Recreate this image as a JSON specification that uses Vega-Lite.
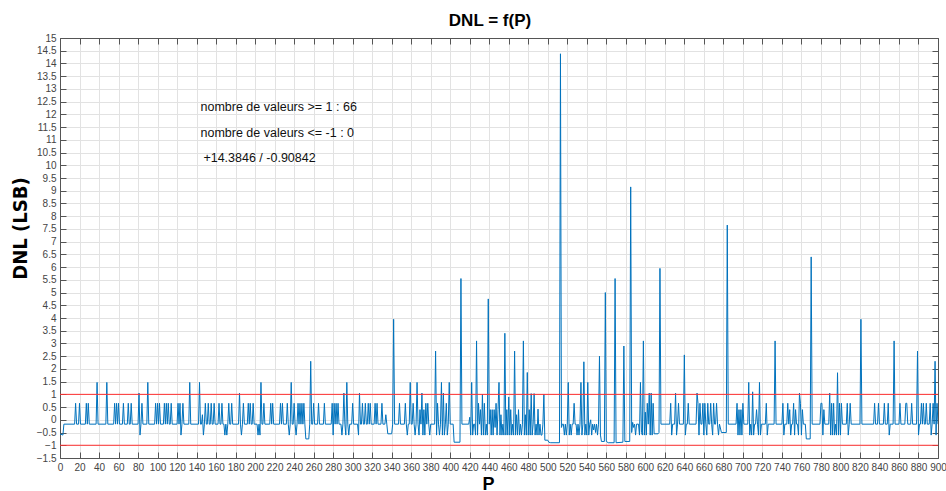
{
"$schema": "https://vega.github.io/schema/vega-lite/v6.json",
"width": 878, "height": 420,
"autosize": {"type": "none"},
"padding": {"left": 60, "top": 38, "right": 8, "bottom": 33},
"background": "white",
"title": {"text": "DNL = f(P)", "font": "Liberation Sans", "fontSize": 17, "fontWeight": "bold", "color": "#000", "anchor": "middle", "dx": -9, "offset": 3},
"config": {
  "view": {"stroke": null},
  "axis": {"domainColor": "#555", "domainWidth": 1, "tickColor": "#555", "tickSize": -6, "labelFont": "Liberation Sans", "labelFontSize": 10, "labelColor": "#444", "gridColor": "#e2e2e2", "gridWidth": 1, "labelPadding": 10}
},
"datasets": {
"dnl": [
{"P":0,"DNL":-0.55},{"P":3,"DNL":-0.6},{"P":4,"DNL":-0.17},
{"P":15,"DNL":-0.17},{"P":16,"DNL":0.65},{"P":17,"DNL":-0.17},
{"P":19,"DNL":-0.17},{"P":20,"DNL":0.65},{"P":21,"DNL":-0.17},
{"P":26,"DNL":-0.17},{"P":27,"DNL":0.65},{"P":28,"DNL":-0.17},{"P":29,"DNL":0.65},{"P":30,"DNL":-0.17},
{"P":37,"DNL":-0.17},{"P":38,"DNL":1.47},{"P":39,"DNL":-0.17},
{"P":47,"DNL":-0.17},{"P":48,"DNL":1.47},{"P":49,"DNL":-0.17},
{"P":55,"DNL":-0.17},{"P":56,"DNL":0.65},{"P":57,"DNL":-0.17},{"P":58,"DNL":0.65},{"P":59,"DNL":-0.17},{"P":60,"DNL":0.65},{"P":61,"DNL":-0.17},
{"P":64,"DNL":-0.17},{"P":65,"DNL":0.65},{"P":66,"DNL":-0.17},
{"P":69,"DNL":-0.17},{"P":70,"DNL":0.65},{"P":71,"DNL":-0.17},{"P":72,"DNL":-0.17},{"P":73,"DNL":0.65},{"P":74,"DNL":-0.17},
{"P":80,"DNL":-0.17},{"P":81,"DNL":1.05},{"P":82,"DNL":-0.6},{"P":83,"DNL":-0.17},{"P":84,"DNL":0.65},{"P":85,"DNL":-0.17},
{"P":89,"DNL":-0.17},{"P":90,"DNL":1.47},{"P":91,"DNL":-0.17},
{"P":97,"DNL":-0.17},{"P":98,"DNL":0.65},{"P":99,"DNL":-0.17},{"P":100,"DNL":0.65},{"P":101,"DNL":-0.17},{"P":102,"DNL":0.65},{"P":103,"DNL":-0.17},
{"P":106,"DNL":-0.17},{"P":107,"DNL":0.65},{"P":108,"DNL":-0.17},{"P":109,"DNL":0.65},{"P":110,"DNL":-0.17},{"P":111,"DNL":0.65},{"P":112,"DNL":-0.17},
{"P":113,"DNL":-0.17},{"P":114,"DNL":0.65},{"P":115,"DNL":-0.17},
{"P":120,"DNL":-0.17},{"P":121,"DNL":0.65},{"P":122,"DNL":-0.17},{"P":123,"DNL":0.65},{"P":124,"DNL":-0.6},{"P":125,"DNL":-0.17},{"P":126,"DNL":0.65},{"P":127,"DNL":-0.17},
{"P":132,"DNL":-0.17},{"P":133,"DNL":1.47},{"P":134,"DNL":-0.17},
{"P":142,"DNL":-0.17},{"P":143,"DNL":1.47},{"P":144,"DNL":-0.17},{"P":145,"DNL":-0.17},{"P":146,"DNL":0.2},{"P":147,"DNL":-0.6},{"P":148,"DNL":-0.17},{"P":149,"DNL":0.65},{"P":150,"DNL":-0.17},
{"P":151,"DNL":-0.17},{"P":152,"DNL":0.65},{"P":153,"DNL":-0.17},{"P":154,"DNL":-0.17},{"P":155,"DNL":0.65},{"P":156,"DNL":-0.17},{"P":157,"DNL":-0.17},{"P":158,"DNL":0.65},{"P":159,"DNL":-0.17},
{"P":162,"DNL":-0.17},{"P":163,"DNL":0.65},{"P":164,"DNL":-0.17},{"P":165,"DNL":-0.17},{"P":166,"DNL":0.65},{"P":167,"DNL":-0.17},{"P":168,"DNL":-0.17},{"P":169,"DNL":-0.6},{"P":170,"DNL":-0.17},{"P":171,"DNL":-0.6},{"P":172,"DNL":-0.17},{"P":173,"DNL":0.65},{"P":174,"DNL":-0.17},{"P":175,"DNL":-0.17},{"P":176,"DNL":0.65},{"P":177,"DNL":-0.17},
{"P":183,"DNL":-0.17},{"P":184,"DNL":1.05},{"P":185,"DNL":-0.17},{"P":186,"DNL":-0.6},{"P":187,"DNL":-0.17},{"P":188,"DNL":0.65},{"P":189,"DNL":-0.17},
{"P":192,"DNL":-0.17},{"P":193,"DNL":0.65},{"P":194,"DNL":-0.17},{"P":195,"DNL":0.65},{"P":196,"DNL":-0.17},{"P":197,"DNL":-0.17},{"P":198,"DNL":0.65},{"P":199,"DNL":-0.17},
{"P":202,"DNL":-0.17},{"P":203,"DNL":-0.6},{"P":204,"DNL":-0.17},{"P":205,"DNL":-0.6},{"P":206,"DNL":1.47},{"P":207,"DNL":-0.17},{"P":208,"DNL":-0.17},{"P":209,"DNL":0.65},{"P":210,"DNL":-0.17},
{"P":215,"DNL":-0.17},{"P":216,"DNL":0.65},{"P":217,"DNL":-0.17},{"P":218,"DNL":0.65},{"P":219,"DNL":-0.17},
{"P":225,"DNL":-0.17},{"P":226,"DNL":0.65},{"P":227,"DNL":-0.17},{"P":228,"DNL":0.65},{"P":229,"DNL":-0.17},
{"P":232,"DNL":-0.17},{"P":233,"DNL":0.65},{"P":234,"DNL":-0.17},{"P":235,"DNL":-0.6},{"P":236,"DNL":-0.17},{"P":237,"DNL":1.47},{"P":238,"DNL":-0.17},{"P":239,"DNL":-0.17},{"P":240,"DNL":0.65},{"P":241,"DNL":-0.17},{"P":242,"DNL":-0.6},{"P":243,"DNL":-0.17},{"P":244,"DNL":0.65},{"P":245,"DNL":-0.17},{"P":246,"DNL":0.65},{"P":247,"DNL":-0.17},{"P":248,"DNL":0.65},{"P":249,"DNL":-0.17},{"P":250,"DNL":0.65},{"P":251,"DNL":-0.17},{"P":252,"DNL":-0.75},{"P":255,"DNL":-0.75},{"P":256,"DNL":-0.17},{"P":257,"DNL":2.3},{"P":258,"DNL":-0.17},
{"P":259,"DNL":-0.17},{"P":260,"DNL":0.65},{"P":261,"DNL":-0.17},
{"P":264,"DNL":-0.17},{"P":265,"DNL":0.65},{"P":266,"DNL":-0.17},
{"P":270,"DNL":-0.17},{"P":271,"DNL":0.65},{"P":272,"DNL":-0.17},
{"P":278,"DNL":-0.17},{"P":279,"DNL":0.65},{"P":280,"DNL":-0.6},{"P":281,"DNL":0.65},{"P":282,"DNL":-0.17},{"P":283,"DNL":0.65},{"P":284,"DNL":-0.17},{"P":285,"DNL":0.65},{"P":286,"DNL":-0.17},
{"P":288,"DNL":-0.17},{"P":289,"DNL":-0.6},{"P":290,"DNL":-0.17},{"P":291,"DNL":1.05},{"P":292,"DNL":-0.17},{"P":293,"DNL":-0.6},{"P":294,"DNL":1.47},{"P":295,"DNL":-0.17},{"P":296,"DNL":-0.6},{"P":297,"DNL":-0.17},
{"P":299,"DNL":-0.17},{"P":300,"DNL":0.65},{"P":301,"DNL":-0.17},
{"P":305,"DNL":-0.17},{"P":306,"DNL":-0.6},{"P":307,"DNL":1.05},{"P":308,"DNL":-0.17},{"P":309,"DNL":-0.17},{"P":310,"DNL":0.65},{"P":311,"DNL":-0.17},{"P":312,"DNL":-0.17},{"P":313,"DNL":0.65},{"P":314,"DNL":-0.17},{"P":315,"DNL":-0.17},{"P":316,"DNL":0.65},{"P":317,"DNL":-0.17},{"P":318,"DNL":0.65},{"P":319,"DNL":-0.17},
{"P":322,"DNL":-0.17},{"P":323,"DNL":0.65},{"P":324,"DNL":-0.17},{"P":325,"DNL":0.65},{"P":326,"DNL":-0.17},
{"P":329,"DNL":-0.17},{"P":330,"DNL":0.65},{"P":331,"DNL":-0.17},
{"P":333,"DNL":-0.17},{"P":334,"DNL":0.2},{"P":335,"DNL":-0.17},{"P":336,"DNL":-0.55},{"P":340,"DNL":-0.55},{"P":341,"DNL":-0.17},{"P":342,"DNL":3.95},{"P":343,"DNL":-0.17},
{"P":347,"DNL":-0.17},{"P":348,"DNL":0.65},{"P":349,"DNL":-0.17},
{"P":353,"DNL":-0.17},{"P":354,"DNL":0.65},{"P":355,"DNL":-0.17},{"P":356,"DNL":-0.6},{"P":357,"DNL":-0.17},{"P":358,"DNL":-0.17},{"P":359,"DNL":1.47},{"P":360,"DNL":-0.17},{"P":361,"DNL":-0.17},{"P":362,"DNL":0.65},{"P":363,"DNL":-0.17},{"P":364,"DNL":-0.6},{"P":365,"DNL":-0.17},{"P":366,"DNL":1.47},{"P":367,"DNL":-0.17},{"P":368,"DNL":-0.6},{"P":369,"DNL":0.4},{"P":370,"DNL":-0.17},{"P":371,"DNL":1.05},{"P":372,"DNL":-0.6},{"P":373,"DNL":0.4},{"P":374,"DNL":-0.6},{"P":375,"DNL":0.65},{"P":376,"DNL":-0.17},{"P":377,"DNL":0.65},{"P":378,"DNL":-0.17},{"P":379,"DNL":-0.6},{"P":380,"DNL":-0.17},
{"P":384,"DNL":-0.17},{"P":385,"DNL":2.7},{"P":386,"DNL":-0.6},{"P":387,"DNL":0.65},{"P":388,"DNL":-0.17},{"P":389,"DNL":-0.6},{"P":390,"DNL":-0.17},{"P":391,"DNL":1.47},{"P":392,"DNL":-0.6},{"P":393,"DNL":1.05},{"P":394,"DNL":-0.6},{"P":395,"DNL":-0.17},{"P":396,"DNL":0.65},{"P":397,"DNL":-0.6},{"P":398,"DNL":-0.17},{"P":399,"DNL":1.47},{"P":400,"DNL":-0.17},
{"P":403,"DNL":-0.17},{"P":404,"DNL":-0.88},{"P":410,"DNL":-0.88},{"P":411,"DNL":5.55},{"P":412,"DNL":-0.17},
{"P":419,"DNL":-0.17},{"P":420,"DNL":0.1},{"P":421,"DNL":-0.6},{"P":422,"DNL":1.47},{"P":423,"DNL":-0.6},{"P":424,"DNL":-0.17},{"P":425,"DNL":-0.17},{"P":426,"DNL":-0.6},{"P":427,"DNL":3.1},{"P":428,"DNL":-0.6},{"P":429,"DNL":0.65},{"P":430,"DNL":-0.17},{"P":431,"DNL":0.4},{"P":432,"DNL":-0.6},{"P":433,"DNL":1.0},{"P":434,"DNL":-0.6},{"P":435,"DNL":0.65},{"P":436,"DNL":-0.6},{"P":437,"DNL":-0.17},{"P":438,"DNL":-0.6},{"P":439,"DNL":4.75},{"P":440,"DNL":-0.17},{"P":441,"DNL":0.4},{"P":442,"DNL":-0.6},{"P":443,"DNL":0.4},{"P":444,"DNL":-0.6},{"P":445,"DNL":0.4},{"P":446,"DNL":-0.3},{"P":447,"DNL":0.65},{"P":448,"DNL":-0.6},{"P":449,"DNL":0.4},{"P":450,"DNL":1.47},{"P":451,"DNL":-0.6},{"P":452,"DNL":0.2},{"P":453,"DNL":-0.6},{"P":454,"DNL":-0.17},{"P":455,"DNL":-0.6},{"P":456,"DNL":3.4},{"P":457,"DNL":-0.6},{"P":458,"DNL":0.4},{"P":459,"DNL":-0.6},{"P":460,"DNL":0.9},{"P":461,"DNL":-0.6},{"P":462,"DNL":0.4},{"P":463,"DNL":-0.6},{"P":464,"DNL":-0.17},{"P":465,"DNL":-0.6},{"P":466,"DNL":2.7},{"P":467,"DNL":-0.6},{"P":468,"DNL":0.2},{"P":469,"DNL":-0.6},{"P":470,"DNL":0.4},{"P":471,"DNL":-0.6},{"P":472,"DNL":-0.17},{"P":473,"DNL":-0.6},{"P":474,"DNL":-0.17},{"P":475,"DNL":3.1},{"P":476,"DNL":-0.6},{"P":477,"DNL":0.2},{"P":478,"DNL":-0.6},{"P":479,"DNL":1.86},{"P":480,"DNL":-0.6},{"P":481,"DNL":0.4},{"P":482,"DNL":-0.6},{"P":483,"DNL":1.03},{"P":484,"DNL":-0.6},{"P":485,"DNL":-0.17},{"P":486,"DNL":1.03},{"P":487,"DNL":-0.6},{"P":488,"DNL":-0.17},{"P":489,"DNL":-0.6},{"P":490,"DNL":0.42},{"P":491,"DNL":-0.6},{"P":492,"DNL":-0.17},{"P":493,"DNL":-0.6},{"P":494,"DNL":-0.6},{"P":495,"DNL":-0.17},{"P":496,"DNL":1.0},{"P":497,"DNL":-0.8},{"P":500,"DNL":-0.8},{"P":501,"DNL":-0.88},{"P":503,"DNL":-0.9},{"P":512,"DNL":-0.9},{"P":513,"DNL":14.38},{"P":514,"DNL":-0.3},{"P":515,"DNL":-0.17},{"P":516,"DNL":-0.17},{"P":517,"DNL":-0.6},{"P":518,"DNL":-0.17},{"P":519,"DNL":-0.6},{"P":520,"DNL":-0.17},{"P":521,"DNL":1.47},{"P":522,"DNL":-0.6},{"P":523,"DNL":-0.17},{"P":524,"DNL":-0.6},{"P":525,"DNL":-0.17},{"P":526,"DNL":-0.17},{"P":527,"DNL":0.65},{"P":528,"DNL":-0.17},{"P":529,"DNL":-0.17},{"P":530,"DNL":-0.6},{"P":531,"DNL":-0.17},{"P":532,"DNL":-0.6},{"P":533,"DNL":-0.17},{"P":534,"DNL":1.47},{"P":535,"DNL":-0.6},{"P":536,"DNL":-0.17},{"P":537,"DNL":2.28},{"P":538,"DNL":-0.6},{"P":539,"DNL":-0.17},{"P":540,"DNL":-0.6},{"P":541,"DNL":1.47},{"P":542,"DNL":-0.6},{"P":543,"DNL":-0.17},{"P":544,"DNL":0.0},{"P":545,"DNL":-0.6},{"P":546,"DNL":-0.17},{"P":547,"DNL":-0.4},{"P":548,"DNL":-0.17},{"P":549,"DNL":-0.5},{"P":550,"DNL":-0.17},{"P":551,"DNL":-0.6},{"P":552,"DNL":-0.17},{"P":553,"DNL":2.5},{"P":554,"DNL":-0.6},{"P":555,"DNL":-0.85},{"P":558,"DNL":-0.85},{"P":559,"DNL":5.0},{"P":560,"DNL":-0.85},{"P":562,"DNL":-0.9},{"P":568,"DNL":-0.9},{"P":569,"DNL":5.55},{"P":570,"DNL":-0.9},{"P":577,"DNL":-0.88},{"P":578,"DNL":2.9},{"P":579,"DNL":-0.85},{"P":584,"DNL":-0.85},{"P":585,"DNL":9.15},{"P":586,"DNL":-0.5},{"P":587,"DNL":-0.1},{"P":588,"DNL":-0.3},{"P":589,"DNL":-0.17},{"P":590,"DNL":-0.6},{"P":591,"DNL":-0.17},{"P":593,"DNL":-0.17},{"P":594,"DNL":-0.6},{"P":595,"DNL":1.47},{"P":596,"DNL":-0.5},{"P":597,"DNL":-0.6},{"P":598,"DNL":3.1},{"P":599,"DNL":-0.6},{"P":600,"DNL":0.3},{"P":601,"DNL":-0.6},{"P":602,"DNL":0.65},{"P":603,"DNL":-0.17},{"P":604,"DNL":1.05},{"P":605,"DNL":-0.6},{"P":606,"DNL":1.05},{"P":607,"DNL":-0.6},{"P":608,"DNL":0.65},{"P":609,"DNL":-0.55},{"P":613,"DNL":-0.55},{"P":614,"DNL":-0.5},{"P":615,"DNL":5.95},{"P":616,"DNL":-0.17},
{"P":625,"DNL":-0.17},{"P":626,"DNL":0.65},{"P":627,"DNL":-0.6},{"P":628,"DNL":-0.17},{"P":630,"DNL":-0.17},{"P":631,"DNL":1.05},{"P":632,"DNL":-0.6},{"P":633,"DNL":-0.17},{"P":634,"DNL":0.65},{"P":635,"DNL":-0.17},{"P":639,"DNL":-0.17},{"P":640,"DNL":2.55},{"P":641,"DNL":-0.6},{"P":642,"DNL":-0.17},{"P":643,"DNL":-0.17},{"P":644,"DNL":0.65},{"P":645,"DNL":-0.17},
{"P":652,"DNL":-0.17},{"P":653,"DNL":1.05},{"P":654,"DNL":0.65},{"P":655,"DNL":-0.6},{"P":656,"DNL":0.65},{"P":657,"DNL":-0.17},{"P":658,"DNL":-0.17},{"P":659,"DNL":0.65},{"P":660,"DNL":-0.6},{"P":661,"DNL":0.65},{"P":662,"DNL":-0.17},{"P":663,"DNL":-0.6},{"P":664,"DNL":0.65},{"P":665,"DNL":-0.17},{"P":666,"DNL":-0.17},{"P":667,"DNL":0.65},{"P":668,"DNL":-0.17},{"P":669,"DNL":-0.6},{"P":670,"DNL":0.65},{"P":671,"DNL":-0.17},{"P":672,"DNL":-0.17},{"P":673,"DNL":0.65},{"P":674,"DNL":-0.17},{"P":675,"DNL":-0.6},{"P":676,"DNL":-0.17},{"P":678,"DNL":-0.5},{"P":683,"DNL":-0.5},{"P":684,"DNL":7.65},{"P":685,"DNL":-0.17},
{"P":693,"DNL":-0.17},{"P":694,"DNL":0.65},{"P":695,"DNL":-0.6},{"P":696,"DNL":0.4},{"P":697,"DNL":-0.6},{"P":698,"DNL":0.4},{"P":699,"DNL":-0.6},{"P":700,"DNL":0.65},{"P":701,"DNL":-0.17},{"P":705,"DNL":-0.17},{"P":706,"DNL":1.47},{"P":707,"DNL":-0.6},{"P":708,"DNL":-0.17},{"P":709,"DNL":-0.6},{"P":710,"DNL":1.1},{"P":711,"DNL":-0.6},{"P":712,"DNL":-0.17},{"P":713,"DNL":-0.17},{"P":714,"DNL":0.4},{"P":715,"DNL":-0.17},{"P":716,"DNL":-0.6},{"P":717,"DNL":1.47},{"P":718,"DNL":-0.6},{"P":719,"DNL":-0.17},{"P":723,"DNL":-0.17},{"P":724,"DNL":0.65},{"P":725,"DNL":-0.6},{"P":726,"DNL":-0.17},
{"P":732,"DNL":-0.17},{"P":733,"DNL":3.1},{"P":734,"DNL":-0.17},
{"P":740,"DNL":-0.17},{"P":741,"DNL":0.65},{"P":742,"DNL":-0.6},{"P":743,"DNL":-0.17},{"P":745,"DNL":-0.17},{"P":746,"DNL":0.65},{"P":747,"DNL":-0.17},{"P":748,"DNL":0.4},{"P":749,"DNL":-0.6},{"P":750,"DNL":-0.17},{"P":751,"DNL":-0.17},{"P":752,"DNL":0.65},{"P":753,"DNL":-0.6},{"P":754,"DNL":0.4},{"P":755,"DNL":-0.17},{"P":756,"DNL":-0.17},{"P":757,"DNL":-0.6},{"P":758,"DNL":1.05},{"P":759,"DNL":0.65},{"P":760,"DNL":-0.6},{"P":761,"DNL":0.4},{"P":762,"DNL":-0.17},{"P":764,"DNL":-0.17},{"P":765,"DNL":-0.75},{"P":769,"DNL":-0.75},{"P":770,"DNL":6.4},{"P":771,"DNL":-0.17},
{"P":779,"DNL":-0.17},{"P":780,"DNL":0.65},{"P":781,"DNL":0.65},{"P":782,"DNL":-0.6},{"P":783,"DNL":0.4},{"P":784,"DNL":-0.17},{"P":788,"DNL":-0.17},{"P":789,"DNL":1.05},{"P":790,"DNL":-0.6},{"P":791,"DNL":0.65},{"P":792,"DNL":-0.6},{"P":793,"DNL":0.65},{"P":794,"DNL":-0.6},{"P":795,"DNL":-0.17},{"P":796,"DNL":-0.6},{"P":797,"DNL":1.85},{"P":798,"DNL":-0.6},{"P":799,"DNL":0.65},{"P":800,"DNL":-0.6},{"P":801,"DNL":0.65},{"P":802,"DNL":-0.17},{"P":806,"DNL":-0.17},{"P":807,"DNL":0.65},{"P":808,"DNL":-0.6},{"P":809,"DNL":-0.17},{"P":810,"DNL":0.65},{"P":811,"DNL":-0.17},
{"P":820,"DNL":-0.17},{"P":821,"DNL":3.95},{"P":822,"DNL":-0.17},
{"P":834,"DNL":-0.17},{"P":835,"DNL":0.65},{"P":836,"DNL":-0.17},{"P":838,"DNL":-0.17},{"P":839,"DNL":0.65},{"P":840,"DNL":-0.17},{"P":844,"DNL":-0.17},{"P":845,"DNL":0.65},{"P":846,"DNL":-0.17},{"P":848,"DNL":-0.17},{"P":849,"DNL":0.65},{"P":850,"DNL":-0.6},{"P":851,"DNL":-0.17},{"P":854,"DNL":-0.17},{"P":855,"DNL":3.1},{"P":856,"DNL":-0.17},{"P":860,"DNL":-0.17},{"P":861,"DNL":0.65},{"P":862,"DNL":-0.17},{"P":866,"DNL":-0.17},{"P":867,"DNL":0.65},{"P":868,"DNL":0.65},{"P":869,"DNL":-0.17},{"P":872,"DNL":-0.17},{"P":873,"DNL":0.65},{"P":874,"DNL":-0.17},{"P":878,"DNL":-0.17},{"P":879,"DNL":2.7},{"P":880,"DNL":-0.6},{"P":881,"DNL":-0.17},{"P":882,"DNL":-0.17},{"P":883,"DNL":0.65},{"P":884,"DNL":-0.17},{"P":885,"DNL":0.65},{"P":886,"DNL":-0.17},{"P":887,"DNL":-0.17},{"P":888,"DNL":0.65},{"P":889,"DNL":-0.17},{"P":891,"DNL":-0.17},{"P":892,"DNL":0.65},{"P":893,"DNL":-0.6},{"P":894,"DNL":-0.17},{"P":895,"DNL":0.65},{"P":896,"DNL":-0.17},{"P":897,"DNL":2.3},{"P":898,"DNL":-0.6},{"P":899,"DNL":0.65},{"P":900,"DNL":-0.17}
],
"limits": [{"DNL": 1}, {"DNL": -1}],
"notes": [
{"P": 144, "DNL": 12.29, "label": "nombre de valeurs >= 1 : 66"},
{"P": 144, "DNL": 11.27, "label": "nombre de valeurs <= -1 : 0"},
{"P": 147, "DNL": 10.28, "label": "+14.3846 / -0.90842"}
]
},
"layer": [
{
 "data": {"name": "dnl"},
 "mark": {"type": "line", "color": "#0072BD", "strokeWidth": 1, "clip": true},
 "encoding": {
  "x": {"field": "P", "type": "quantitative", "scale": {"domain": [0, 900], "nice": false, "zero": false},
        "axis": {"orient": "bottom", "tickCount": 45, "format": "d", "labelOverlap": false, "labelFlush": false, "labelBound": false, "grid": true, "title": "P", "titleFont": "Liberation Sans", "titleFontSize": 18, "titleFontWeight": "bold", "titleColor": "#000", "titleX": 428, "titleY": 31, "titleBaseline": "alphabetic", "titleAnchor": "start", "titleAlign": "center"}},
  "y": {"field": "DNL", "type": "quantitative", "scale": {"domain": [-1.5, 15], "nice": false, "zero": false},
        "axis": {"orient": "left", "tickCount": 33, "format": ".1~f", "labelOverlap": false, "labelFlush": false, "labelSeparation": 0, "grid": true, "title": "DNL (LSB)", "titleFont": "Liberation Sans Narrow, DejaVu Sans Condensed, Roboto Condensed, Roboto", "titleFontSize": 20, "titleFontWeight": "bold", "titleColor": "#000", "titleX": -40, "titleY": 190, "titleAngle": -90, "titleAlign": "center", "titleBaseline": "middle"}}
 }
},
{
 "data": {"name": "limits"},
 "mark": {"type": "rule", "color": "#ff3030", "strokeWidth": 1},
 "encoding": {"y": {"field": "DNL", "type": "quantitative", "axis": null}}
},
{
 "data": {"name": "notes"},
 "mark": {"type": "text", "align": "left", "baseline": "middle", "font": "Liberation Sans", "fontSize": 12.5, "color": "#111"},
 "encoding": {
  "x": {"field": "P", "type": "quantitative", "axis": null},
  "y": {"field": "DNL", "type": "quantitative", "axis": null},
  "text": {"field": "label"}
 }
},
{
 "data": {"name": "dnl"},
 "mark": {"type": "line", "strokeOpacity": 0},
 "encoding": {
  "x": {"field": "P", "type": "quantitative", "axis": {"orient": "top", "tickCount": 45, "labels": false, "grid": false, "title": null}},
  "y": {"field": "DNL", "type": "quantitative", "axis": {"orient": "right", "tickCount": 33, "labels": false, "grid": false, "title": null}}
 }
}
],
"resolve": {"axis": {"x": "independent", "y": "independent"}}
}
